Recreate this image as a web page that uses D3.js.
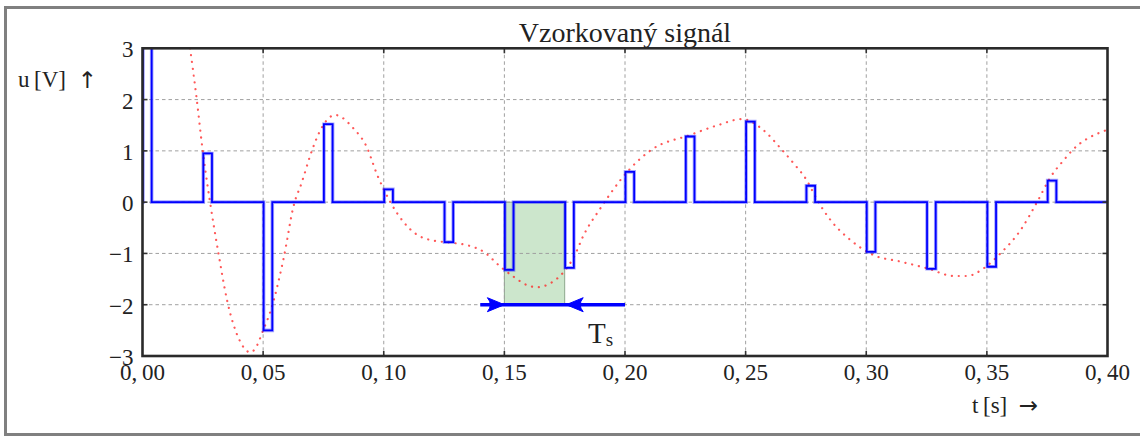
<!DOCTYPE html>
<html>
<head>
<meta charset="utf-8">
<script src="https://cdn.jsdelivr.net/npm/d3@7"></script>
<style>
  html, body { margin: 0; padding: 0; background: #fff; }
  svg { display: block; }
  text { font-family: "Liberation Serif", "DejaVu Serif", serif; fill: #222; }
  .arrow { font-family: "DejaVu Sans", sans-serif; }
</style>
</head>
<body>
<svg id="chart" width="1140" height="437"></svg>
<script>
// Sample instants (period 0.025 s) and the sampled values held for a short pulse
const sampleTimes = [0.000, 0.025, 0.050, 0.075, 0.100, 0.125, 0.150, 0.175,
                     0.200, 0.225, 0.250, 0.275, 0.300, 0.325, 0.350, 0.375];
const sampleValues = [7.2, 0.95, -2.50, 1.52, 0.25, -0.78, -1.32, -1.28,
                      0.59, 1.28, 1.57, 0.32, -0.97, -1.30, -1.26, 0.42];

// Continuous signal (dotted red curve)
const curveT = [0.000, 0.010, 0.0197, 0.0225, 0.0247, 0.028, 0.0315, 0.035, 0.0403,
                0.0448, 0.0468, 0.050, 0.0533, 0.0586, 0.0627, 0.066, 0.0696, 0.0708,
                0.0756, 0.0798, 0.0874, 0.0929, 0.0973, 0.100, 0.1056, 0.111, 0.116,
                0.1208, 0.1277, 0.1346, 0.1415, 0.1484, 0.154, 0.1595, 0.1636, 0.1691,
                0.1746, 0.1788, 0.1829, 0.1898, 0.194, 0.1981, 0.2023, 0.2106, 0.227,
                0.2385, 0.2485, 0.2575, 0.2645, 0.270, 0.2753, 0.2797, 0.2852, 0.2935,
                0.3029, 0.3142, 0.3253, 0.3363, 0.3418, 0.3487, 0.3556, 0.3639, 0.3709,
                0.3764, 0.3819, 0.3854, 0.3976, 0.400];
const curveU = [7.2, 5.4, 3.00, 2.00, 1.10, 0.00, -1.00, -1.90, -2.70,
                -2.93, -2.85, -2.50, -2.09, -1.07, -0.06, 0.38, 0.92, 1.08,
                1.55, 1.70, 1.44, 1.08, 0.53, 0.25, -0.22, -0.53, -0.69,
                -0.75, -0.79, -0.84, -0.97, -1.26, -1.46, -1.62, -1.66, -1.58,
                -1.36, -1.07, -0.64, -0.12, 0.17, 0.43, 0.66, 1.01, 1.31,
                1.50, 1.62, 1.40, 1.05, 0.75, 0.43, 0.04, -0.35, -0.74,
                -1.03, -1.16, -1.29, -1.44, -1.44, -1.29, -1.00, -0.55, 0.01,
                0.49, 0.82, 1.01, 1.37, 1.41];

const xTicks = [0, 0.05, 0.10, 0.15, 0.20, 0.25, 0.30, 0.35, 0.40];
const yTicks = [-3, -2, -1, 0, 1, 2, 3];

const pulseWidth = 0.0036;          // duration of each held sample
const periodSpan = [0.150, 0.175];  // shaded interval between two samples
const spanLevel = -2;               // height of the Ts dimension arrows
const arrowTails = [0.140, 0.200];  // where the two arrow shafts start

const svg = d3.select("#chart");
const pLeft = 142.5, pRight = 1107.5, pTop = 48.3, pBottom = 356;

const x = d3.scaleLinear().domain([0, 0.4]).range([pLeft, pRight]);
const y = d3.scaleLinear().domain([-3, 3]).range([pBottom, pTop]);

// Outer gray frame (runs past the right edge)
svg.append("rect")
  .attr("x", 5.5).attr("y", 7.5).attr("width", 1200).attr("height", 427)
  .attr("fill", "none").attr("stroke", "#808080").attr("stroke-width", 3);

svg.append("clipPath").attr("id", "plotClip")
  .append("rect").attr("x", pLeft).attr("y", pTop)
  .attr("width", pRight - pLeft).attr("height", pBottom - pTop);

// Shaded sampling period
svg.append("rect")
  .attr("x", x(periodSpan[0])).attr("y", y(0))
  .attr("width", x(periodSpan[1]) - x(periodSpan[0]))
  .attr("height", y(spanLevel) - y(0))
  .attr("fill", "rgb(0,128,0)").attr("fill-opacity", 0.2)
  .attr("stroke", "#6a8a6a").attr("stroke-opacity", 0.7).attr("stroke-width", 1);

// Grid
const grid = svg.append("g").attr("stroke", "#a0a0a0").attr("stroke-width", 1)
  .attr("stroke-dasharray", "3.5,3");
grid.selectAll(".gx").data(xTicks.slice(1, -1)).join("line")
  .attr("x1", d => x(d)).attr("x2", d => x(d)).attr("y1", pTop).attr("y2", pBottom);
grid.selectAll(".gy").data(yTicks.slice(1, -1)).join("line")
  .attr("y1", d => y(d)).attr("y2", d => y(d)).attr("x1", pLeft).attr("x2", pRight);

const plot = svg.append("g").attr("clip-path", "url(#plotClip)");

// Continuous signal, dotted red
const smooth = d3.line().x(d => x(d[0])).y(d => y(d[1])).curve(d3.curveMonotoneX);
plot.append("path")
  .datum(curveT.map((t, i) => [t, curveU[i]]))
  .attr("d", smooth)
  .attr("fill", "none").attr("stroke", "#ff2020").attr("stroke-opacity", 0.75)
  .attr("stroke-width", 2.2).attr("stroke-linecap", "round")
  .attr("stroke-dasharray", "0.1,6.8");

// Sampled signal: pulses of height equal to the sample value
const steps = [[0, 0]];
sampleTimes.forEach((t, i) => {
  const t0 = t + 0.0002, t1 = t + 0.0002 + pulseWidth;
  steps.push([t0, 0], [t0, sampleValues[i]], [t1, sampleValues[i]], [t1, 0]);
});
steps.push([0.4, 0]);
const stepLine = d3.line().x(d => x(d[0])).y(d => y(d[1]));
plot.append("path").datum(steps).attr("d", stepLine)
  .attr("fill", "none").attr("stroke", "#0000ff").attr("stroke-opacity", 0.35)
  .attr("stroke-width", 3.6).attr("stroke-linejoin", "miter");
plot.append("path").datum(steps).attr("d", stepLine)
  .attr("fill", "none").attr("stroke", "#0000ff")
  .attr("stroke-width", 1.8).attr("stroke-linejoin", "miter");

// Ts dimension arrows
const arrowG = svg.append("g");
arrowG.append("line")
  .attr("x1", x(arrowTails[0])).attr("x2", x(arrowTails[1]))
  .attr("y1", y(spanLevel)).attr("y2", y(spanLevel))
  .attr("stroke", "#0000ff").attr("stroke-width", 3.6);
function stealth(tipX, tipY, dir) {
  const L = 17, W = 7, inset = 6;
  return `M${tipX},${tipY} L${tipX - dir * L},${tipY - W} ` +
         `Q${tipX - dir * (L - inset)},${tipY} ${tipX - dir * L},${tipY + W} Z`;
}
arrowG.append("path").attr("d", stealth(x(periodSpan[0]), y(spanLevel), 1))
  .attr("fill", "#0000ff").attr("stroke", "#0000ff").attr("stroke-width", 1)
  .attr("stroke-linejoin", "round");
arrowG.append("path").attr("d", stealth(x(periodSpan[1]) + 1.5, y(spanLevel), -1))
  .attr("fill", "#0000ff").attr("stroke", "#0000ff").attr("stroke-width", 1)
  .attr("stroke-linejoin", "round");

const tsLabel = svg.append("text")
  .attr("x", 588).attr("y", 343).attr("font-size", 29);
tsLabel.append("tspan").text("T");
tsLabel.append("tspan").attr("font-size", 19).attr("dy", 3).text("s");

// Frame and inward ticks on all four sides
const tickLen = 5;
const ticks = svg.append("g").attr("stroke", "#333").attr("stroke-width", 1.6);
xTicks.slice(1, -1).forEach(d => {
  ticks.append("line").attr("x1", x(d)).attr("x2", x(d)).attr("y1", pBottom).attr("y2", pBottom - tickLen);
  ticks.append("line").attr("x1", x(d)).attr("x2", x(d)).attr("y1", pTop).attr("y2", pTop + tickLen);
});
yTicks.slice(1, -1).forEach(d => {
  ticks.append("line").attr("y1", y(d)).attr("y2", y(d)).attr("x1", pLeft).attr("x2", pLeft + tickLen);
  ticks.append("line").attr("y1", y(d)).attr("y2", y(d)).attr("x1", pRight).attr("x2", pRight - tickLen);
});
svg.append("rect")
  .attr("x", pLeft).attr("y", pTop).attr("width", pRight - pLeft).attr("height", pBottom - pTop)
  .attr("fill", "none").attr("stroke", "#2a2a2a").attr("stroke-width", 2.6);

// Tick labels
const fmtX = d => d3.format(".2f")(d).replace(".", ",\u2009");
svg.append("g").selectAll("text").data(xTicks).join("text")
  .attr("x", d => x(d)).attr("y", 379.5).attr("text-anchor", "middle")
  .attr("font-size", 23).text(fmtX);
svg.append("g").selectAll("text").data(yTicks).join("text")
  .attr("x", 133.5).attr("y", d => y(d) + 9).attr("text-anchor", "end")
  .attr("font-size", 23).text(d => d < 0 ? "\u2212" + Math.abs(d) : String(d));

// Title and axis labels
svg.append("text").attr("x", (pLeft + pRight) / 2).attr("y", 41.5)
  .attr("text-anchor", "middle").attr("font-size", 28).text("Vzorkovaný signál");

const yLab = svg.append("text").attr("x", 18).attr("y", 87).attr("font-size", 23);
yLab.append("tspan").text("u\u2009[V]\u2002");
yLab.append("tspan").attr("class", "arrow").attr("font-size", 23).attr("dy", 1).text("\u2191");

const xLab = svg.append("text").attr("x", 972).attr("y", 413).attr("font-size", 23);
xLab.append("tspan").text("t\u2009[s]\u2002");
xLab.append("tspan").attr("class", "arrow").attr("font-size", 23).text("\u2192");
</script>
</body>
</html>
